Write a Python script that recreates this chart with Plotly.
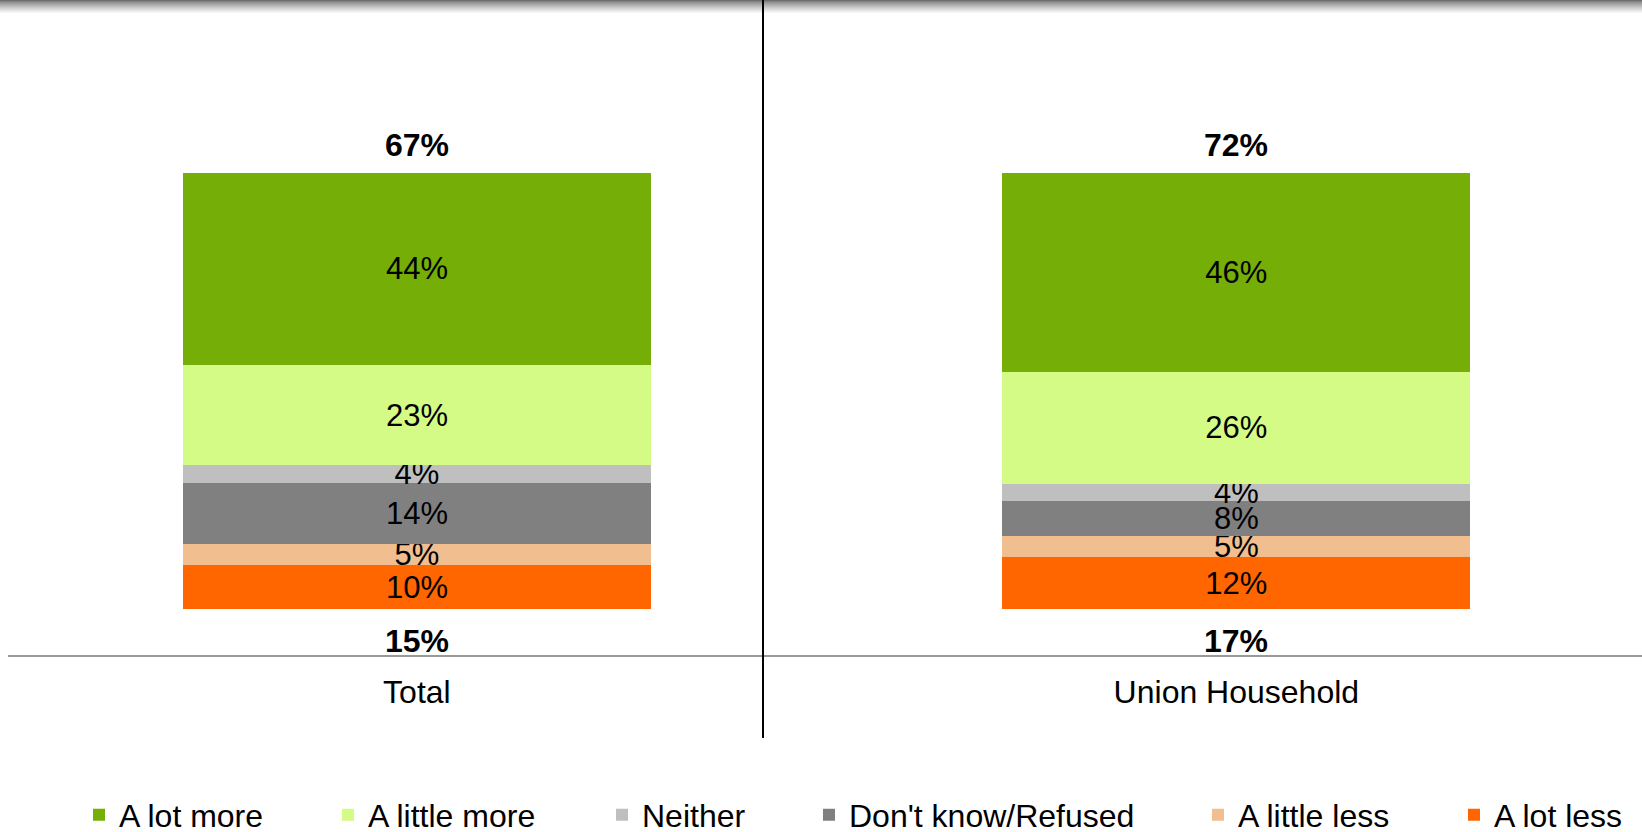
import plotly.graph_objects as go

groups = ["Total", "Union Household"]

series = ["A lot more", "A little more", "Neither", "Don't know/Refused", "A little less", "A lot less"]
a_lot_more = [44, 46]
a_little_more = [23, 26]
neither = [4, 4]
dont_know = [14, 8]
a_little_less = [5, 5]
a_lot_less = [10, 12]

# nets shown above / below each bar
net_more = [67, 72]
net_less = [15, 17]

colors = {
    "A lot more": "#74AE06",
    "A little more": "#D4FB86",
    "Neither": "#BFBFBF",
    "Don't know/Refused": "#808080",
    "A little less": "#F0BE8F",
    "A lot less": "#FF6600",
}
values = {
    "A lot more": a_lot_more,
    "A little more": a_little_more,
    "Neither": neither,
    "Don't know/Refused": dont_know,
    "A little less": a_little_less,
    "A lot less": a_lot_less,
}

FONT = "Liberation Sans, Arial, sans-serif"
FS = 32
W, H = 1642, 832
ML, MB = 8, 177
PW, PH = W - ML, H - MB

# legend text start positions (px) in the reference
legend_text_x = [117, 366, 640, 847, 1236, 1492]

fig = go.Figure()

# stack bottom -> top
for name in reversed(series):
    v = values[name]
    leg_idx = series.index(name)
    fig.add_trace(go.Bar(
        x=groups, y=v, name=name,
        marker=dict(color=colors[name], line=dict(width=0)),
        text=[f"{n}%" for n in v],
        textposition="inside", insidetextanchor="middle", textangle=0,
        textfont=dict(family=FONT, size=FS - 1, color="black"),
        legend="legend" if leg_idx == 0 else f"legend{leg_idx + 1}",
        showlegend=True,
        hoverinfo="skip",
    ))

legends = {}
for k, tx in enumerate(legend_text_x):
    key = "legend" if k == 0 else f"legend{k + 1}"
    legends[key] = dict(
        x=(tx - 38 - ML) / PW, y=(PH - 815) / PH,
        xanchor="left", yanchor="middle", orientation="h",
        bgcolor="rgba(0,0,0,0)", borderwidth=0,
        font=dict(family=FONT, size=FS, color="black"),
    )

annotations = []
for g, up, down in zip(groups, net_more, net_less):
    annotations.append(dict(x=g, y=106.5, text=f"<b>{up}%</b>", showarrow=False,
                            font=dict(family=FONT, size=FS, color="black"),
                            xanchor="center", yanchor="middle"))
    annotations.append(dict(x=g, y=-7.4, text=f"<b>{down}%</b>", showarrow=False,
                            font=dict(family=FONT, size=FS, color="black"),
                            xanchor="center", yanchor="middle"))

shapes = []
# shadow gradient along the top edge
steps = 13
for s in range(steps):
    c = int(110 + (255 - 110) * (s / steps) ** 0.75)
    shapes.append(dict(type="rect", xref="paper", yref="paper",
                       x0=-ML / PW, x1=1, y0=1 - (s + 1) / PH, y1=1 - s / PH,
                       fillcolor=f"rgb({c},{c},{c})", line=dict(width=0), layer="above"))
# vertical divider
shapes.append(dict(type="line", xref="paper", yref="paper",
                   x0=(763 - ML) / PW, x1=(763 - ML) / PW, y0=(PH - 738) / PH, y1=1,
                   line=dict(color="black", width=2), layer="above"))

fig.update_layout(
    width=W, height=H,
    margin=dict(l=ML, r=0, t=0, b=MB, autoexpand=False),
    showlegend=True,
    barmode="stack", barnorm="percent", bargap=0.429,
    plot_bgcolor="white", paper_bgcolor="white",
    uniformtext=dict(minsize=FS - 1, mode="show"),
    font=dict(family=FONT, size=FS, color="black"),
    annotations=annotations, shapes=shapes,
    xaxis=dict(range=[-0.499, 1.495], showline=True, linecolor="#999999", linewidth=2,
               showgrid=False, ticks="", tickfont=dict(family=FONT, size=FS, color="black"),
               ticklabelstandoff=8, fixedrange=True, automargin=False),
    yaxis=dict(range=[-10.55, 139.7], visible=False, showgrid=False, zeroline=False,
               fixedrange=True),
    **legends,
)

# drop the browser's default page margin so the figure sits at (0, 0)
fig.write_html("out.html", config={"displayModeBar": False},
               post_script="document.body.style.margin='0';")
